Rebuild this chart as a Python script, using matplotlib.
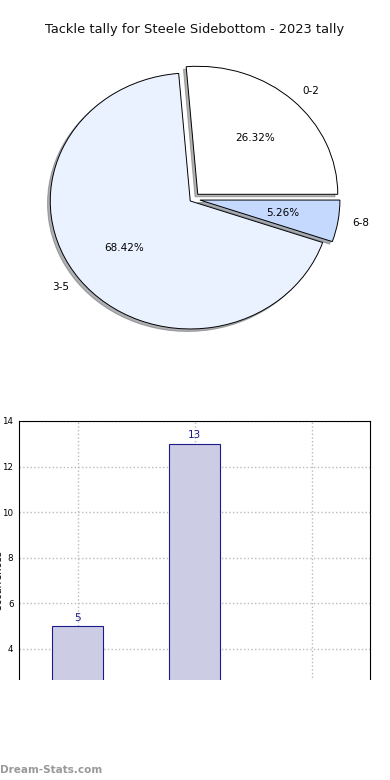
import matplotlib
matplotlib.use('Agg')
import matplotlib.pyplot as plt
from matplotlib.patches import Rectangle

# data
categories = ['0-2', '3-5', '6-8']
counts = [5, 13, 1]
pie_colors = ['#FFFFFF', '#EBF2FF', '#C5D9FF']
explode = [0.05, 0.025, 0.05]
yticks = [4, 6, 8, 10, 12, 14]
TITLE = 'Tackle tally for Steele Sidebottom - 2023 tally'

fig = plt.figure(figsize=(3.9, 7.8), dpi=100)
W, H = 390.0, 780.0


def px_axes(left, top, right, bottom):
    return fig.add_axes([left / W, 1 - bottom / H, (right - left) / W, (bottom - top) / H])


# pie
ax1 = px_axes(18, 39, 368, 359)
wedges, texts, autotexts = ax1.pie(counts, labels=categories, colors=pie_colors,
                                   explode=explode,
                                   shadow={'ox': -0.014, 'oy': -0.014, 'shade': 0.6},
                                   autopct='%.2f%%', startangle=0,
                                   wedgeprops={'edgecolor': 'black', 'linewidth': 0.7},
                                   textprops={'fontsize': 7.5})
ax1.set_aspect('auto')
ax1.set_xlim(-1.25, 1.25)
ax1.set_ylim(-1.25, 1.25)
fig.text(0.5, 1 - 30 / H, TITLE, ha='center', va='center', fontsize=9.35, color='#111111')

# bars
ax2 = px_axes(19, 421, 370, 740)
x = list(range(len(categories)))
bars = ax2.bar(x, counts, width=0.44, color='#CCCCE5', edgecolor='#1A1A8C', linewidth=0.8, zorder=2)
for xi, c in zip(x, counts):
    ax2.text(xi, c + 0.15, str(c), ha='center', va='bottom', fontsize=7.5, color='#1A1A8C')
ax2.set_xlim(-0.5, 2.5)
ax2.set_ylim(0, 14)
ax2.set_yticks(yticks)
ax2.set_xticks(x)
ax2.set_xticklabels(categories)
ax2.tick_params(labelsize=6.3, length=0, pad=4)
ax2.grid(True, linestyle=':', color='#BBBBBB', linewidth=1, zorder=0)
ax2.set_ylabel('Occurrences', fontsize=7)
ax2.yaxis.set_label_coords(-0.045, 0.5)

# white band covering the lower part
fig.patches.append(Rectangle((0, 0), 1, 1 - 680 / H, transform=fig.transFigure,
                             facecolor='white', edgecolor='none', zorder=10))
fig.text(0, 1 - 770 / H, 'Dream-Stats.com', fontsize=7.5, color='#999999',
         ha='left', va='center', zorder=11, fontweight='bold')

fig.savefig('out.png', dpi=100)
